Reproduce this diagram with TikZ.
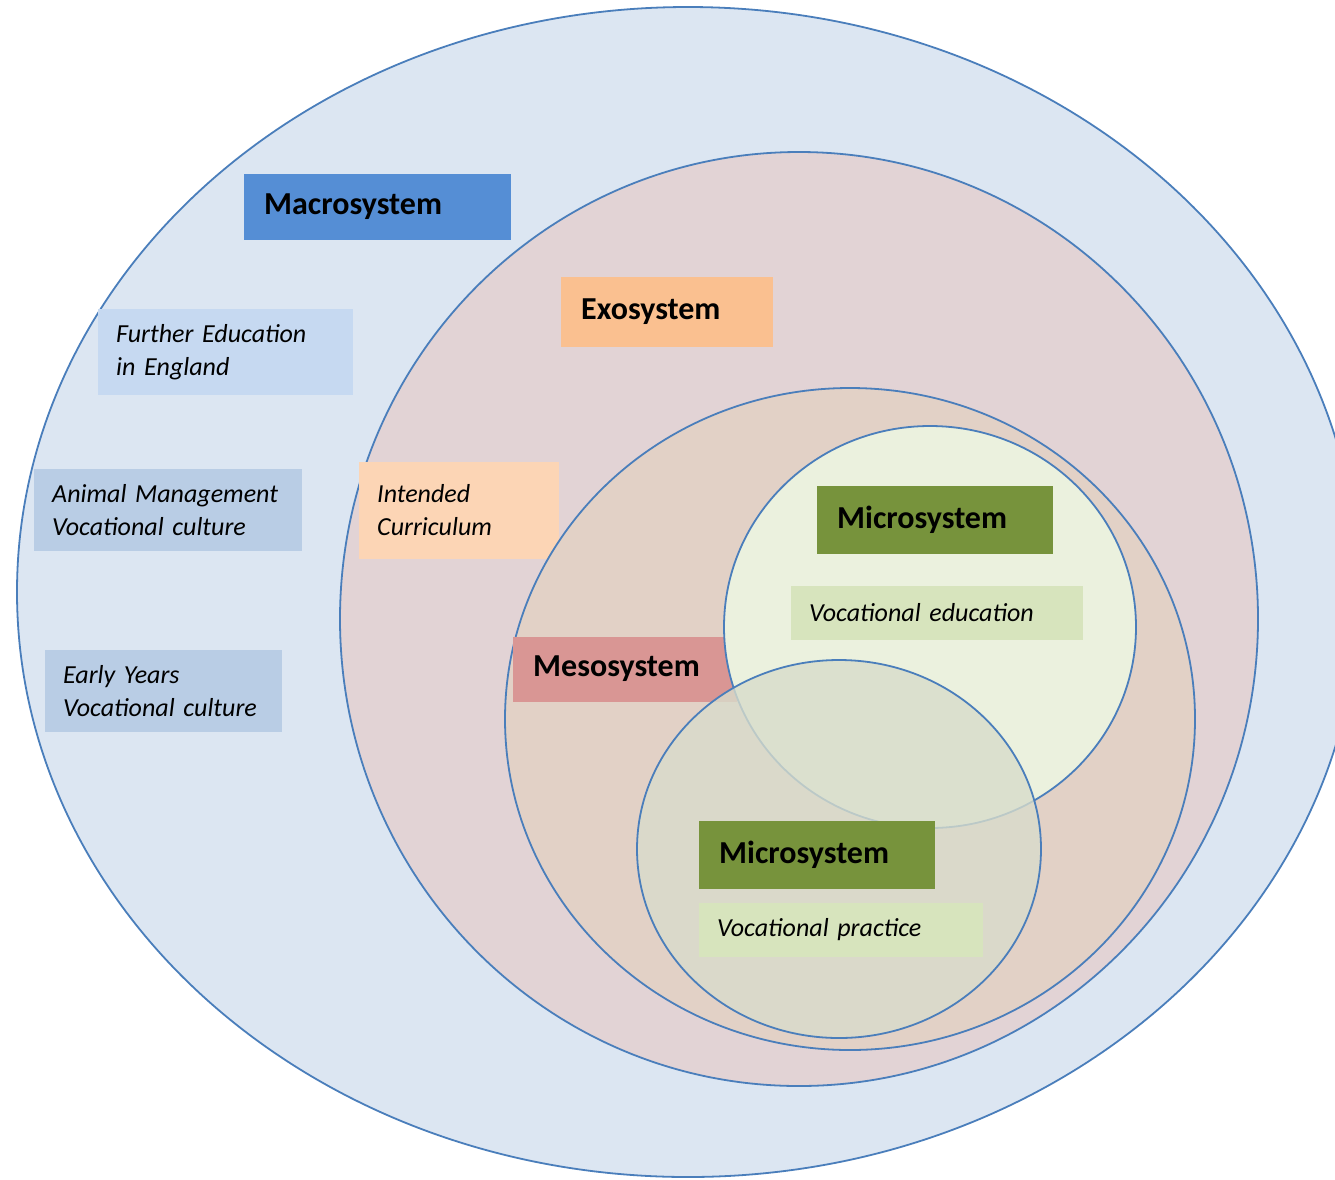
\documentclass[tikz,border=0pt]{standalone}
\usepackage{fontspec}
\setmainfont{Carlito}
\usetikzlibrary{positioning}
\definecolor{ringline}{RGB}{74,126,187}
\definecolor{macrofill}{RGB}{220,230,242}
\definecolor{exofill}{RGB}{226,211,213}
\definecolor{mesofill}{RGB}{226,209,198}
\definecolor{microfill}{RGB}{235,241,222}
\definecolor{practfill}{RGB}{216,220,203}
\definecolor{macrohead}{RGB}{85,142,213}
\definecolor{macronote}{RGB}{198,217,241}
\definecolor{culturenote}{RGB}{185,205,229}
\definecolor{exohead}{RGB}{250,192,144}
\definecolor{exonote}{RGB}{252,213,181}
\definecolor{mesohead}{RGB}{217,150,148}
\definecolor{microhead}{RGB}{119,147,60}
\definecolor{micronote}{RGB}{215,228,189}

\begin{document}
\begin{tikzpicture}[x=1pt, y=-1pt,
    ring/.style={draw=ringline, line width=1.8pt},
    headbox/.style={anchor=west, inner xsep=20pt, inner ysep=0pt, align=left,
        font=\fontsize{32}{36}\selectfont\bfseries},
    notebox/.style={anchor=west, inner xsep=18pt, inner ysep=0pt, align=left,
        font=\fontsize{26}{33}\selectfont\itshape,
        execute at begin node={\hyphenpenalty=10000\exhyphenpenalty=10000}}]

\useasboundingbox (0, 0) rectangle (1335, 1179);
\clip (0, 0) rectangle (1335, 1179);

% macrosystem
\path[ring, fill=macrofill] (688, 592) ellipse [x radius=671pt, y radius=585pt];
\node[headbox, fill=macrohead, text width=227pt, minimum height=66pt] (macro) at (244, 207) {Macrosystem};
\node[notebox, fill=macronote, text width=219pt, minimum height=86pt] (further) at (98, 352) {Further Education\\in England};
\node[notebox, fill=culturenote, text width=232pt, minimum height=82pt] (animal) at (34, 510) {Animal Management\\Vocational culture};
\node[notebox, fill=culturenote, text width=201pt, minimum height=82pt] (early) at (45, 691) {Early Years\\Vocational culture};

% exosystem
\path[ring, fill=exofill] (799, 619) ellipse [x radius=459pt, y radius=467pt];
\node[headbox, fill=exohead, text width=172pt, minimum height=70pt] (exo) at (561, 312) {Exosystem};
\node[notebox, fill=exonote, text width=164pt, minimum height=97pt] (intended) at (359, 510) {Intended\\Curriculum};

% mesosystem
\path[ring, fill=mesofill] (850, 719) ellipse [x radius=345pt, y radius=331pt];
\node[headbox, fill=mesohead, text width=184pt, minimum height=65pt] (meso) at (513, 669) {Mesosystem};

% microsystems
\path[ring, fill=microfill] (930, 627) ellipse [x radius=206pt, y radius=201pt];
\node[headbox, fill=microhead, text width=196pt, minimum height=68pt] (education) at (817, 520) {Microsystem};
\node[notebox, fill=micronote, text width=256pt, minimum height=54pt] (voced) at (791, 613) {Vocational education};

\path[ring, fill=practfill, fill opacity=0.8] (839, 849) ellipse [x radius=202pt, y radius=189pt];
\node[headbox, fill=microhead, text width=196pt, minimum height=68pt] (practice) at (699, 855) {Microsystem};
\node[notebox, fill=micronote, text width=248pt, minimum height=54pt] (vocpr) at (699, 930) {Vocational practice};

\end{tikzpicture}
\end{document}
